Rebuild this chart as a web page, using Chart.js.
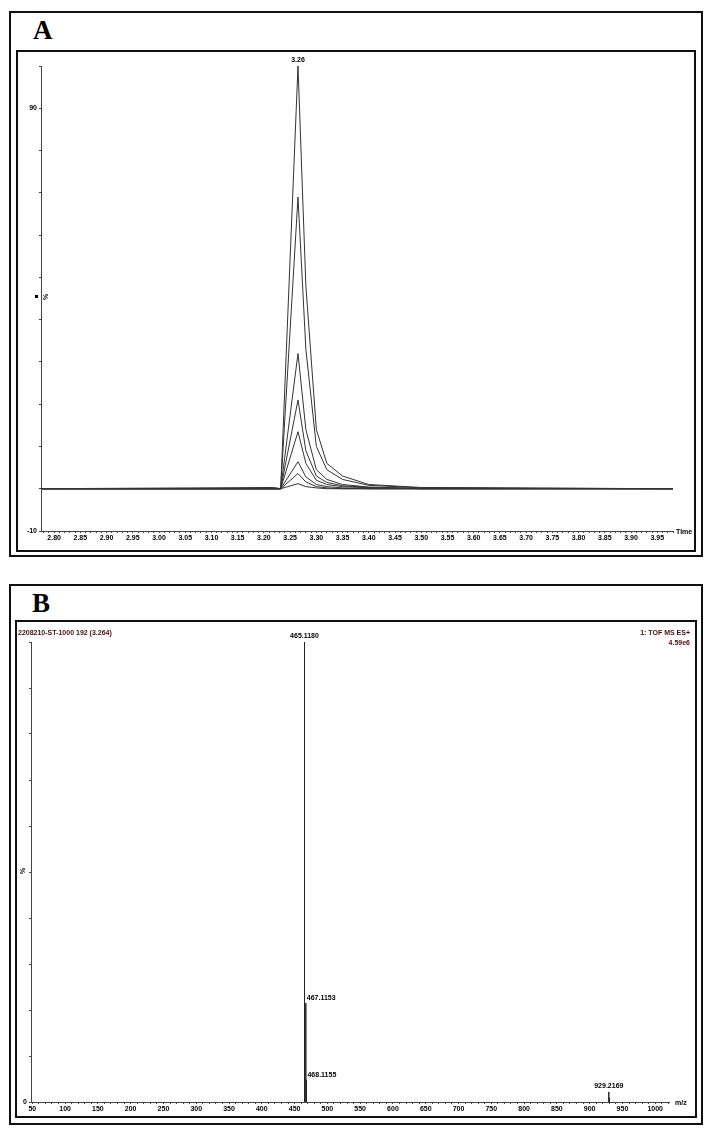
<!DOCTYPE html>
<html><head><meta charset="utf-8">
<script src="https://cdn.jsdelivr.net/npm/chart.js@4.4.0/dist/chart.umd.min.js"></script>
<style>
body{margin:0;background:#fff;width:712px;height:1136px;position:relative;font-family:"Liberation Sans",Arial,sans-serif}
.box{position:absolute;border:2px solid #111;box-sizing:border-box}
.lbl{position:absolute;font-family:"Liberation Serif",serif;font-weight:bold;font-size:27px;color:#000}
canvas{position:absolute}
</style></head><body>
<div class="box" style="left:9px;top:11px;width:694px;height:546px"></div>
<div class="lbl" style="left:33px;top:15px">A</div>
<div class="box" style="left:16px;top:50px;width:680px;height:502px;border-width:2px"></div>
<div class="box" style="left:9px;top:584px;width:694px;height:541px"></div>
<div class="lbl" style="left:32px;top:588px">B</div>
<div class="box" style="left:15px;top:620px;width:682px;height:498px"></div>
<canvas id="ca" style="left:18px;top:52px;width:684px;height:497px" width="684" height="497"></canvas>
<canvas id="cb" style="left:17px;top:623px;width:685px;height:492px" width="685" height="492"></canvas>
<script>
// ---- Panel A data (retention time, min; relative intensity %) ----
const timesA = [2.775, 3.22, 3.232, 3.265, 3.28, 3.30, 3.32, 3.35, 3.40, 3.50, 3.98];
const traceA1 = [0, 0, 0, 100, 48, 14, 6, 3, 1, 0.3, 0];
const traceA2 = [0, 0, 0, 69, 33, 10, 4.5, 2.2, 0.8, 0.2, 0];
const traceA3 = [0, 0, 0, 32, 14, 4.5, 2.2, 1, 0.4, 0.1, 0];
const traceA4 = [0, 0, 0, 21, 9, 3, 1.5, 0.7, 0.3, 0, 0];
const traceA5 = [0, 0, 0, 13.5, 6, 2, 1, 0.5, 0.2, 0, 0];
const traceA6 = [0, 0.3, 0, 6.4, 2.8, 1, 0.5, 0.2, 0, 0, 0];
const traceA7 = [0, 0, 0, 3.6, 1.6, 0.5, 0.2, 0, 0, 0, 0];
const traceA8 = [0, 0, 0, 1.2, 0.5, 0.2, 0, 0, 0, 0, 0];
const peakLabelA = "3.26";
// ---- Panel B data (m/z; relative intensity %) ----
const mzB = [465.118, 467.1153, 468.1155, 929.2169, 930.22];
const intB = [100, 21.5, 4.8, 2.2, 0.9];
const mzLabelsB = ["465.1180", "467.1153", "468.1155", "929.2169", ""];
const headerLeftB = "2208210-ST-1000 192 (3.264)";
const headerRightB = ["1: TOF MS ES+", "4.59e6"];

const F = {family:"Liberation Sans", size:7, weight:"bold"};
const tracesA = [traceA1,traceA2,traceA3,traceA4,traceA5,traceA6,traceA7,traceA8];

function stepTicks(a, b, step){ const out=[]; for(let k=Math.ceil(a/step-1e-9); k*step<=b+1e-9; k++) out.push({value:+(k*step).toFixed(4)}); return out; }

const annA = {id:'annA', afterDraw(c){
  const g=c.ctx, x=c.scales.x, y=c.scales.y;
  g.save(); g.fillStyle='#000'; g.font='bold 7px "Liberation Sans"';
  g.textAlign='center'; g.fillText(peakLabelA, x.getPixelForValue(3.265), y.getPixelForValue(100)-4);
  g.textAlign='left'; g.fillText('Time', x.right+3, y.bottom+3);
  g.save(); g.translate(30, 245); g.rotate(-Math.PI/2); g.textAlign='center'; g.fillText('%',0,0); g.restore();
  g.fillRect(17,243,3,3);
  g.restore();
}};
new Chart(document.getElementById('ca'), {
  type:'line',
  data:{datasets: tracesA.map(t=>({data: timesA.map((v,i)=>({x:v,y:t[i]})), borderColor:'#333', borderWidth:1, pointRadius:0, tension:0}))},
  options:{responsive:false, animation:false, layout:{padding:{top:14,right:29,left:0,bottom:0}},
    plugins:{legend:{display:false}, tooltip:{enabled:false}},
    scales:{
      x:{type:'linear', min:2.775, max:3.98, afterFit:s=>{s.height=18},
        afterBuildTicks:s=>{s.ticks=stepTicks(2.775,3.98,0.01)},
        ticks:{autoSkip:false, maxRotation:0, font:F, color:'#000', padding:1,
          callback:v=>{const r=Math.round(v*100); return (r%5===0)? (r/100).toFixed(2):'';}},
        grid:{drawOnChartArea:false, tickLength:2, color:'#444'}, border:{color:'#444'}},
      y:{min:-10, max:100, afterFit:s=>{s.width=23},
        ticks:{stepSize:10, autoSkip:false, font:F, color:'#000', padding:2, callback:v=>(v===90||v===-10)?String(v):''},
        grid:{drawOnChartArea:false, tickLength:2, color:'#444'}, border:{color:'#444'}}
    }},
  plugins:[annA]
});

const annB = {id:'annB', afterDraw(c){
  const g=c.ctx, x=c.scales.x, y=c.scales.y;
  g.save(); g.font='bold 7px "Liberation Sans"';
  g.fillStyle='#4a0c0c'; g.textAlign='left'; g.fillText(headerLeftB, 1, 12);
  g.textAlign='right'; g.fillText(headerRightB[0], 673, 12); g.fillText(headerRightB[1], 673, 22);
  g.fillStyle='#000';
  mzB.forEach((m,i)=>{ if(!mzLabelsB[i]) return;
    const px=x.getPixelForValue(m), py=y.getPixelForValue(intB[i]);
    if(i===1||i===2){g.textAlign='left'; g.fillText(mzLabelsB[i], px+1, py-3);}
    else {g.textAlign='center'; g.fillText(mzLabelsB[i], px, py-4);}
  });
  g.textAlign='left'; g.fillText('m/z', x.right+6, y.bottom+3);
  g.save(); g.translate(8, 248); g.rotate(-Math.PI/2); g.textAlign='center'; g.fillText('%',0,0); g.restore();
  g.restore();
}};
new Chart(document.getElementById('cb'), {
  type:'line',
  data:{datasets: mzB.map((m,i)=>({data:[{x:m,y:0},{x:m,y:intB[i]},{x:m,y:0}], borderColor:'#222', borderWidth:1, pointRadius:0, tension:0}))},
  options:{responsive:false, animation:false, layout:{padding:{top:19,right:33,left:0,bottom:0}},
    plugins:{legend:{display:false}, tooltip:{enabled:false}},
    scales:{
      x:{type:'linear', min:48, max:1021, afterFit:s=>{s.height=13},
        afterBuildTicks:s=>{s.ticks=stepTicks(48,1021,10)},
        ticks:{autoSkip:false, maxRotation:0, font:F, color:'#000', padding:1,
          callback:v=>(Math.round(v)%50===0)?String(Math.round(v)):''},
        grid:{drawOnChartArea:false, tickLength:2, color:'#444'}, border:{color:'#444'}},
      y:{min:0, max:100, afterFit:s=>{s.width=14},
        ticks:{stepSize:10, autoSkip:false, font:F, color:'#000', padding:2, callback:v=>v===0?'0':''},
        grid:{drawOnChartArea:false, tickLength:2, color:'#444'}, border:{color:'#444'}}
    }},
  plugins:[annB]
});
</script></body></html>
